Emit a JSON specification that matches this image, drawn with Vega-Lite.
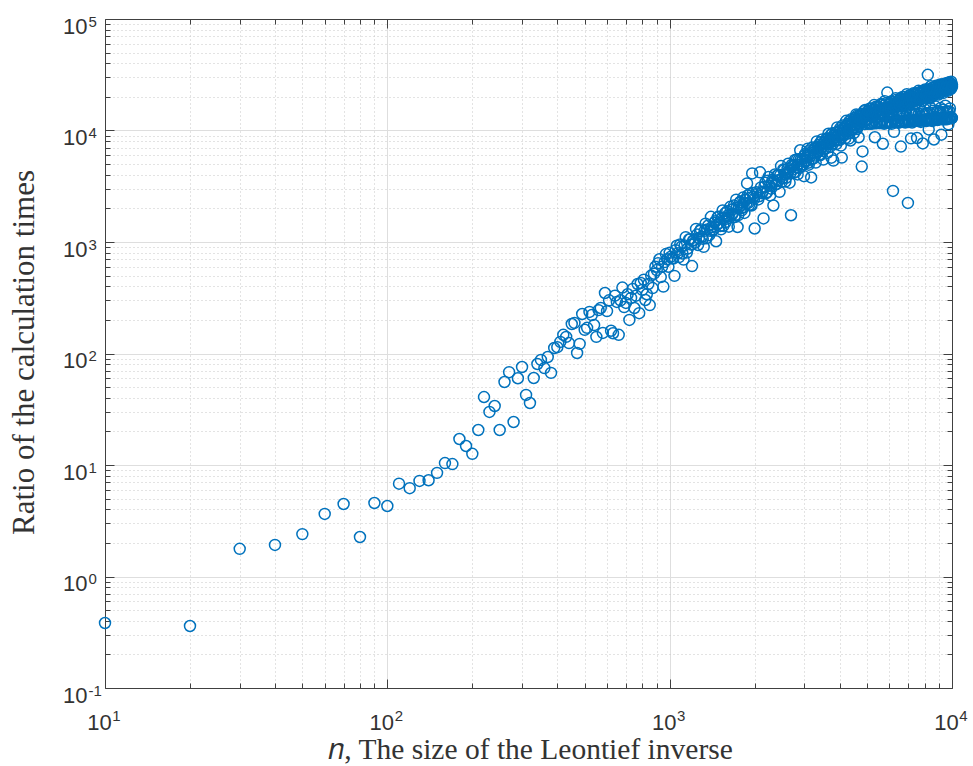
{
"$schema": "https://vega.github.io/schema/vega-lite/v6.json",
"width": 847, "height": 669,
"autosize": {"type": "none"},
"padding": {"left": 105, "top": 19, "right": 21, "bottom": 78},
"background": "white",
"config": {"view": {"stroke": null}, "axis": {"domainColor": "#404040", "domainWidth": 1, "tickColor": "#404040", "tickWidth": 1, "labelFont": "Liberation Sans", "labelFontSize": 22, "labelColor": "#333333", "titleFont": "Liberation Serif", "titleFontSize": 29.5, "titleFontWeight": "normal", "titleColor": "#333333", "labelFlush": false, "labelOverlap": false}},
"data": {"values": [
{"n":10,"ratio":0.383},{"n":20,"ratio":0.36},{"n":30,"ratio":1.77},{"n":40,"ratio":1.92},{"n":50,"ratio":2.4},{"n":60,"ratio":3.64},{"n":70,"ratio":4.47},{"n":80,"ratio":2.26},{"n":90,"ratio":4.56},{"n":100,"ratio":4.29},
{"n":110,"ratio":6.8},{"n":120,"ratio":6.2},{"n":130,"ratio":7.2},{"n":140,"ratio":7.3},{"n":150,"ratio":8.5},{"n":160,"ratio":10.4},{"n":170,"ratio":10.2},{"n":180,"ratio":17.1},{"n":190,"ratio":14.8},{"n":200,"ratio":12.6},
{"n":210,"ratio":20.6},{"n":220,"ratio":40.7},{"n":230,"ratio":29.9},{"n":240,"ratio":33.8},{"n":250,"ratio":20.6},{"n":260,"ratio":55.5},{"n":270,"ratio":68},{"n":280,"ratio":24.3},{"n":290,"ratio":60},{"n":300,"ratio":75.7},
{"n":310,"ratio":42.5},{"n":320,"ratio":36},{"n":330,"ratio":60.3},{"n":340,"ratio":80.5},{"n":350,"ratio":87.5},{"n":360,"ratio":74},{"n":370,"ratio":93},{"n":380,"ratio":67},{"n":390,"ratio":112},{"n":400,"ratio":114},
{"n":410,"ratio":127},{"n":420,"ratio":147},{"n":430,"ratio":141},{"n":440,"ratio":124},{"n":450,"ratio":184},{"n":460,"ratio":188},{"n":470,"ratio":101},{"n":480,"ratio":122},{"n":490,"ratio":226},{"n":500,"ratio":163},
{"n":510,"ratio":170},{"n":520,"ratio":236},{"n":530,"ratio":221},{"n":540,"ratio":180},{"n":550,"ratio":141},{"n":560,"ratio":245},{"n":570,"ratio":256},{"n":580,"ratio":153},{"n":590,"ratio":349},
{"n":600,"ratio":240},{"n":610,"ratio":300},{"n":620,"ratio":160},{"n":630,"ratio":152},{"n":640,"ratio":330},{"n":650,"ratio":290},{"n":660,"ratio":147},{"n":670,"ratio":300},{"n":680,"ratio":390},{"n":690,"ratio":261},
{"n":700,"ratio":284},{"n":710,"ratio":340},{"n":720,"ratio":200},{"n":730,"ratio":315},{"n":740,"ratio":380},{"n":750,"ratio":256},{"n":760,"ratio":330},{"n":770,"ratio":420},{"n":780,"ratio":230},{"n":790,"ratio":429},
{"n":800,"ratio":372},{"n":810,"ratio":460},{"n":820,"ratio":302},{"n":830,"ratio":340},{"n":840,"ratio":420},{"n":850,"ratio":272},{"n":860,"ratio":500},{"n":870,"ratio":386},{"n":880,"ratio":520},{"n":890,"ratio":600},
{"n":900,"ratio":560},{"n":910,"ratio":646},{"n":920,"ratio":700},{"n":930,"ratio":485},{"n":940,"ratio":600},{"n":950,"ratio":398},{"n":960,"ratio":660},{"n":970,"ratio":780},{"n":980,"ratio":700},{"n":990,"ratio":600},{"n":1000,"ratio":800},
{"n":1020,"ratio":713},{"n":1040,"ratio":497},{"n":1060,"ratio":925},{"n":1080,"ratio":733},{"n":1100,"ratio":906},{"n":1120,"ratio":695},{"n":1140,"ratio":1104},{"n":1160,"ratio":874},{"n":1180,"ratio":1059},{"n":1200,"ratio":608},
{"n":1220,"ratio":1043},{"n":1240,"ratio":1310},{"n":1260,"ratio":940},{"n":1280,"ratio":1253},{"n":1300,"ratio":1114},{"n":1320,"ratio":904},{"n":1340,"ratio":1462},{"n":1360,"ratio":1298},{"n":1380,"ratio":1151},{"n":1400,"ratio":1681},
{"n":1420,"ratio":1270},{"n":1440,"ratio":1486},{"n":1460,"ratio":1016},{"n":1480,"ratio":1668},{"n":1500,"ratio":1481},{"n":1520,"ratio":1298},{"n":1540,"ratio":1921},{"n":1560,"ratio":1640},{"n":1580,"ratio":1511},{"n":1600,"ratio":1891},
{"n":1620,"ratio":1371},{"n":1640,"ratio":2067},{"n":1660,"ratio":1746},{"n":1680,"ratio":1973},{"n":1700,"ratio":1672},{"n":1720,"ratio":2395},{"n":1740,"ratio":1363},{"n":1760,"ratio":2047},{"n":1780,"ratio":2299},{"n":1800,"ratio":1922},
{"n":1820,"ratio":2505},{"n":1840,"ratio":1822},{"n":1860,"ratio":2380},{"n":1880,"ratio":3354},{"n":1900,"ratio":2241},{"n":1920,"ratio":2692},{"n":1940,"ratio":2155},{"n":1960,"ratio":4118},{"n":1980,"ratio":2543},{"n":2000,"ratio":1322},
{"n":1010,"ratio":737},{"n":1030,"ratio":710},{"n":1050,"ratio":845},{"n":1070,"ratio":793},{"n":1090,"ratio":950},{"n":1110,"ratio":789},{"n":1130,"ratio":932},{"n":1150,"ratio":804},{"n":1170,"ratio":1052},{"n":1190,"ratio":947},
{"n":1210,"ratio":1028},{"n":1230,"ratio":984},{"n":1250,"ratio":1166},{"n":1270,"ratio":1088},{"n":1290,"ratio":1295},{"n":1310,"ratio":1070},{"n":1330,"ratio":1259},{"n":1350,"ratio":1080},{"n":1370,"ratio":1406},{"n":1390,"ratio":1260},
{"n":1410,"ratio":1362},{"n":1430,"ratio":1299},{"n":1450,"ratio":1533},{"n":1470,"ratio":1426},{"n":1490,"ratio":1689},{"n":1510,"ratio":1391},{"n":1530,"ratio":1629},{"n":1550,"ratio":1393},{"n":1570,"ratio":1809},{"n":1590,"ratio":1614},
{"n":1610,"ratio":1738},{"n":1630,"ratio":1653},{"n":1650,"ratio":1944},{"n":1670,"ratio":1802},{"n":1690,"ratio":2128},{"n":1710,"ratio":1748},{"n":1730,"ratio":2042},{"n":1750,"ratio":1742},{"n":1770,"ratio":2254},{"n":1790,"ratio":2006},
{"n":1810,"ratio":2156},{"n":1830,"ratio":2046},{"n":1850,"ratio":2401},{"n":1870,"ratio":2221},{"n":1890,"ratio":2616},{"n":1910,"ratio":2143},{"n":1930,"ratio":2499},{"n":1950,"ratio":2126},{"n":1970,"ratio":2746},{"n":1990,"ratio":2439},
{"n":2030,"ratio":2797},{"n":2060,"ratio":2408},{"n":2090,"ratio":4214},{"n":2120,"ratio":2739},{"n":2150,"ratio":1627},{"n":2180,"ratio":3398},{"n":2210,"ratio":2800},{"n":2240,"ratio":3827},{"n":2270,"ratio":2614},{"n":2300,"ratio":3413},
{"n":2330,"ratio":2124},{"n":2360,"ratio":4033},{"n":2390,"ratio":3302},{"n":2420,"ratio":3966},{"n":2450,"ratio":2817},{"n":2480,"ratio":4800},{"n":2510,"ratio":3730},{"n":2540,"ratio":4413},{"n":2570,"ratio":3484},{"n":2600,"ratio":4187},
{"n":2630,"ratio":5046},{"n":2660,"ratio":3405},{"n":2690,"ratio":1738},{"n":2720,"ratio":4775},{"n":2750,"ratio":4176},{"n":2780,"ratio":5443},{"n":2810,"ratio":4682},{"n":2840,"ratio":4036},{"n":2870,"ratio":5519},{"n":2900,"ratio":6647},
{"n":2930,"ratio":4793},{"n":2960,"ratio":5573},{"n":2990,"ratio":3893},{"n":3020,"ratio":6168},{"n":3050,"ratio":5328},{"n":3080,"ratio":6851},{"n":3110,"ratio":4939},{"n":3140,"ratio":6091},{"n":3170,"ratio":3791},{"n":3200,"ratio":7041},
{"n":3230,"ratio":5606},{"n":3260,"ratio":6843},{"n":3290,"ratio":5154},{"n":3320,"ratio":7992},{"n":3350,"ratio":6394},{"n":3380,"ratio":7447},{"n":3410,"ratio":5986},{"n":3440,"ratio":6991},{"n":3470,"ratio":8312},{"n":3500,"ratio":5485},
{"n":3530,"ratio":7698},{"n":3560,"ratio":6924},{"n":3590,"ratio":8467},{"n":3620,"ratio":6294},{"n":3650,"ratio":9352},{"n":3680,"ratio":7674},{"n":3710,"ratio":8512},{"n":3740,"ratio":5705},{"n":3770,"ratio":9429},{"n":3800,"ratio":5372},
{"n":3830,"ratio":8089},{"n":3860,"ratio":9502},{"n":3890,"ratio":7535},{"n":3920,"ratio":10663},{"n":3950,"ratio":9011},{"n":3980,"ratio":8223},{"n":4010,"ratio":10005},{"n":4040,"ratio":7326},{"n":4070,"ratio":5713},{"n":4100,"ratio":11098},
{"n":4130,"ratio":8998},{"n":4160,"ratio":10407},{"n":4190,"ratio":8537},{"n":4220,"ratio":12211},{"n":4250,"ratio":9897},{"n":4280,"ratio":11487},{"n":4310,"ratio":8462},{"n":4340,"ratio":10927},{"n":4370,"ratio":8137},{"n":4400,"ratio":12634},
{"n":4430,"ratio":10011},{"n":4460,"ratio":11825},{"n":4490,"ratio":9464},{"n":4520,"ratio":12927},{"n":4550,"ratio":11099},{"n":4580,"ratio":13952},{"n":4610,"ratio":10291},{"n":4640,"ratio":12471},{"n":4670,"ratio":8699},{"n":4700,"ratio":13637},
{"n":4730,"ratio":11539},{"n":4760,"ratio":13450},{"n":4790,"ratio":4749},{"n":4820,"ratio":6492},{"n":4850,"ratio":12738},{"n":4880,"ratio":14876},{"n":4910,"ratio":11417},{"n":4940,"ratio":14125},{"n":4970,"ratio":12360},
{"n":2045,"ratio":2717},{"n":2075,"ratio":2572},{"n":2105,"ratio":3090},{"n":2135,"ratio":2825},{"n":2165,"ratio":3135},{"n":2195,"ratio":2731},{"n":2225,"ratio":3547},{"n":2255,"ratio":3189},{"n":2285,"ratio":3006},{"n":2315,"ratio":3614},
{"n":2345,"ratio":3495},{"n":2375,"ratio":3297},{"n":2405,"ratio":3948},{"n":2435,"ratio":3599},{"n":2465,"ratio":3981},{"n":2495,"ratio":3456},{"n":2525,"ratio":4476},{"n":2555,"ratio":4012},{"n":2585,"ratio":3771},{"n":2615,"ratio":4522},
{"n":2645,"ratio":4362},{"n":2675,"ratio":4104},{"n":2705,"ratio":4903},{"n":2735,"ratio":4457},{"n":2765,"ratio":4918},{"n":2795,"ratio":4260},{"n":2825,"ratio":5503},{"n":2855,"ratio":4922},{"n":2885,"ratio":4616},{"n":2915,"ratio":5522},
{"n":2945,"ratio":5314},{"n":2975,"ratio":4990},{"n":3005,"ratio":5948},{"n":3035,"ratio":5397},{"n":3065,"ratio":5944},{"n":3095,"ratio":5138},{"n":3125,"ratio":6625},{"n":3155,"ratio":5914},{"n":3185,"ratio":5537},{"n":3215,"ratio":6613},
{"n":3245,"ratio":6354},{"n":3275,"ratio":5956},{"n":3305,"ratio":7087},{"n":3335,"ratio":6420},{"n":3365,"ratio":7060},{"n":3395,"ratio":6093},{"n":3425,"ratio":7843},{"n":3455,"ratio":6991},{"n":3485,"ratio":6536},{"n":3515,"ratio":7794},
{"n":3545,"ratio":7478},{"n":3575,"ratio":6998},{"n":3605,"ratio":8316},{"n":3635,"ratio":7522},{"n":3665,"ratio":8261},{"n":3695,"ratio":7120},{"n":3725,"ratio":9154},{"n":3755,"ratio":8150},{"n":3785,"ratio":7609},{"n":3815,"ratio":9064},
{"n":3845,"ratio":8685},{"n":3875,"ratio":8120},{"n":3905,"ratio":9638},{"n":3935,"ratio":8708},{"n":3965,"ratio":9552},{"n":3995,"ratio":8223},{"n":4025,"ratio":10561},{"n":4055,"ratio":9392},{"n":4085,"ratio":8759},{"n":4115,"ratio":10422},
{"n":4145,"ratio":9976},{"n":4175,"ratio":9316},{"n":4205,"ratio":11047},{"n":4235,"ratio":9972},{"n":4265,"ratio":10928},{"n":4295,"ratio":9399},{"n":4325,"ratio":12059},{"n":4355,"ratio":10713},{"n":4385,"ratio":9981},{"n":4415,"ratio":11865},
{"n":4445,"ratio":11345},{"n":4475,"ratio":10586},{"n":4505,"ratio":12542},{"n":4535,"ratio":11311},{"n":4565,"ratio":12384},{"n":4595,"ratio":10642},{"n":4625,"ratio":13641},{"n":4655,"ratio":12108},{"n":4685,"ratio":11272},{"n":4715,"ratio":13389},
{"n":4745,"ratio":12793},{"n":4775,"ratio":11928},{"n":4805,"ratio":14120},{"n":4835,"ratio":12724},{"n":4865,"ratio":13920},{"n":4895,"ratio":11954},{"n":4925,"ratio":15312},{"n":4955,"ratio":13582},{"n":4985,"ratio":12634},
{"n":5000,"ratio":14000},{"n":5030,"ratio":11510},{"n":5060,"ratio":12730},{"n":5090,"ratio":13830},{"n":5120,"ratio":15710},{"n":5150,"ratio":11540},
{"n":5180,"ratio":15140},{"n":5210,"ratio":11560},{"n":5240,"ratio":13540},{"n":5270,"ratio":13310},{"n":5300,"ratio":16900},{"n":5330,"ratio":8700},
{"n":5360,"ratio":14400},{"n":5390,"ratio":11850},{"n":5420,"ratio":16180},{"n":5450,"ratio":15120},{"n":5480,"ratio":13310},{"n":5510,"ratio":11660},
{"n":5540,"ratio":15570},{"n":5570,"ratio":11670},{"n":5600,"ratio":17250},{"n":5630,"ratio":13790},{"n":5660,"ratio":14300},{"n":5690,"ratio":7610},
{"n":5720,"ratio":15680},{"n":5750,"ratio":11480},{"n":5780,"ratio":18340},{"n":5810,"ratio":14670},{"n":5840,"ratio":15150},{"n":5870,"ratio":11990},
{"n":5900,"ratio":21900},{"n":5930,"ratio":11770},{"n":5960,"ratio":17040},{"n":5990,"ratio":13200},{"n":6020,"ratio":14730},{"n":6050,"ratio":11800},
{"n":6080,"ratio":18150},{"n":6110,"ratio":11470},{"n":6140,"ratio":15970},{"n":6170,"ratio":15390},{"n":6180,"ratio":2870},{"n":6200,"ratio":17280},{"n":6230,"ratio":9730},
{"n":6260,"ratio":16910},{"n":6290,"ratio":11880},{"n":6320,"ratio":19430},{"n":6350,"ratio":14040},{"n":6380,"ratio":15460},{"n":6410,"ratio":12280},
{"n":6440,"ratio":18350},{"n":6470,"ratio":11700},{"n":6500,"ratio":16400},{"n":6530,"ratio":14580},{"n":6560,"ratio":19340},{"n":6590,"ratio":7180},
{"n":6620,"ratio":17370},{"n":6650,"ratio":11990},{"n":6680,"ratio":20000},{"n":6710,"ratio":13810},{"n":6740,"ratio":16550},{"n":6770,"ratio":12260},
{"n":6800,"ratio":18850},{"n":6830,"ratio":11800},{"n":6860,"ratio":16440},{"n":6890,"ratio":15680},{"n":6920,"ratio":21160},{"n":6950,"ratio":12080},{"n":6980,"ratio":2240},
{"n":7010,"ratio":18600},{"n":7040,"ratio":12100},{"n":7070,"ratio":17420},{"n":7100,"ratio":14540},{"n":7130,"ratio":20750},{"n":7160,"ratio":8500},
{"n":7190,"ratio":19950},{"n":7220,"ratio":11790},{"n":7250,"ratio":18170},{"n":7280,"ratio":15210},{"n":7310,"ratio":21570},{"n":7340,"ratio":12430},
{"n":7370,"ratio":19010},{"n":7400,"ratio":12210},{"n":7430,"ratio":21090},{"n":7460,"ratio":14060},{"n":7490,"ratio":17690},{"n":7520,"ratio":8570},
{"n":7550,"ratio":20380},{"n":7580,"ratio":12140},{"n":7610,"ratio":22710},{"n":7640,"ratio":15960},{"n":7670,"ratio":18850},{"n":7700,"ratio":12540},
{"n":7730,"ratio":20190},{"n":7760,"ratio":11940},{"n":7790,"ratio":22350},{"n":7820,"ratio":14790},{"n":7850,"ratio":18400},{"n":7880,"ratio":7650},
{"n":7910,"ratio":21820},{"n":7940,"ratio":12360},{"n":7970,"ratio":19680},{"n":8000,"ratio":15480},{"n":8030,"ratio":23350},{"n":8060,"ratio":12650},
{"n":8090,"ratio":20560},{"n":8120,"ratio":12170},{"n":8150,"ratio":22790},{"n":8180,"ratio":14300},{"n":8210,"ratio":31600},{"n":8240,"ratio":19590},{"n":8270,"ratio":10230},
{"n":8300,"ratio":22290},{"n":8330,"ratio":12500},{"n":8360,"ratio":19400},{"n":8390,"ratio":16020},{"n":8420,"ratio":24940},{"n":8450,"ratio":12780},
{"n":8480,"ratio":21820},{"n":8510,"ratio":12170},{"n":8540,"ratio":24140},{"n":8570,"ratio":15080},{"n":8600,"ratio":20530},{"n":8630,"ratio":8300},
{"n":8660,"ratio":23310},{"n":8690,"ratio":12600},{"n":8720,"ratio":21210},{"n":8750,"ratio":16400},{"n":8780,"ratio":25150},{"n":8810,"ratio":12890},
{"n":8840,"ratio":22140},{"n":8870,"ratio":12400},{"n":8900,"ratio":24530},{"n":8930,"ratio":14950},{"n":8960,"ratio":21020},{"n":8990,"ratio":12690},
{"n":9020,"ratio":23890},{"n":9050,"ratio":12580},{"n":9080,"ratio":25870},{"n":9110,"ratio":15900},{"n":9140,"ratio":22070},{"n":9170,"ratio":9170},
{"n":9200,"ratio":23360},{"n":9230,"ratio":13010},{"n":9260,"ratio":25840},{"n":9290,"ratio":15330},{"n":9320,"ratio":21730},{"n":9350,"ratio":12540},
{"n":9380,"ratio":25180},{"n":9410,"ratio":12810},{"n":9440,"ratio":22930},{"n":9470,"ratio":16670},{"n":9500,"ratio":26410},{"n":9530,"ratio":13100},
{"n":9560,"ratio":23650},{"n":9590,"ratio":12600},{"n":9620,"ratio":26200},{"n":9650,"ratio":14810},{"n":9680,"ratio":22680},{"n":9710,"ratio":11350},
{"n":9740,"ratio":25250},{"n":9770,"ratio":12910},{"n":9800,"ratio":27100},{"n":9830,"ratio":15780},{"n":9860,"ratio":23530},{"n":9890,"ratio":13210},
{"n":9920,"ratio":26140},{"n":9950,"ratio":12840},{"n":9980,"ratio":25020},{"n":9990,"ratio":12960},{"n":10000,"ratio":25810},
{"n":5015,"ratio":14035},{"n":5045,"ratio":14951},{"n":5075,"ratio":11522},{"n":5105,"ratio":13534},{"n":5135,"ratio":15748},{"n":5165,"ratio":11548},{"n":5195,"ratio":14167},{"n":5225,"ratio":13300},
{"n":5255,"ratio":14597},{"n":5285,"ratio":15547},{"n":5315,"ratio":11591},{"n":5345,"ratio":14067},{"n":5375,"ratio":16366},{"n":5405,"ratio":11617},{"n":5435,"ratio":14718},{"n":5465,"ratio":13380},
{"n":5495,"ratio":15158},{"n":5525,"ratio":16142},{"n":5555,"ratio":11661},{"n":5585,"ratio":14598},{"n":5615,"ratio":16978},{"n":5645,"ratio":11687},{"n":5675,"ratio":15262},{"n":5705,"ratio":13460},
{"n":5735,"ratio":15711},{"n":5765,"ratio":16727},{"n":5795,"ratio":11731},{"n":5825,"ratio":15122},{"n":5855,"ratio":17586},{"n":5885,"ratio":11757},{"n":5915,"ratio":15803},{"n":5945,"ratio":13540},
{"n":5975,"ratio":16263},{"n":6005,"ratio":17311},{"n":6035,"ratio":11800},{"n":6065,"ratio":15644},{"n":6095,"ratio":18188},{"n":6125,"ratio":11826},{"n":6155,"ratio":16337},{"n":6185,"ratio":13620},
{"n":6215,"ratio":16806},{"n":6245,"ratio":17886},{"n":6275,"ratio":11870},{"n":6305,"ratio":16159},{"n":6335,"ratio":18785},{"n":6365,"ratio":11896},{"n":6395,"ratio":16869},{"n":6425,"ratio":13700},
{"n":6455,"ratio":17348},{"n":6485,"ratio":18461},{"n":6515,"ratio":11939},{"n":6545,"ratio":16674},{"n":6575,"ratio":19382},{"n":6605,"ratio":11965},{"n":6635,"ratio":17400},{"n":6665,"ratio":13780},
{"n":6695,"ratio":17891},{"n":6725,"ratio":19036},{"n":6755,"ratio":12009},{"n":6785,"ratio":17189},{"n":6815,"ratio":19978},{"n":6845,"ratio":12035},{"n":6875,"ratio":17932},{"n":6905,"ratio":13860},
{"n":6935,"ratio":18433},{"n":6965,"ratio":19611},{"n":6995,"ratio":12079},{"n":7025,"ratio":17703},{"n":7055,"ratio":20571},{"n":7085,"ratio":12105},{"n":7115,"ratio":18456},{"n":7145,"ratio":13940},
{"n":7175,"ratio":18965},{"n":7205,"ratio":20173},{"n":7235,"ratio":12148},{"n":7265,"ratio":18205},{"n":7295,"ratio":21152},{"n":7325,"ratio":12174},{"n":7355,"ratio":18974},{"n":7385,"ratio":14020},
{"n":7415,"ratio":19493},{"n":7445,"ratio":20733},{"n":7475,"ratio":12218},{"n":7505,"ratio":18706},{"n":7535,"ratio":21733},{"n":7565,"ratio":12244},{"n":7595,"ratio":19491},{"n":7625,"ratio":14100},
{"n":7655,"ratio":20021},{"n":7685,"ratio":21292},{"n":7715,"ratio":12287},{"n":7745,"ratio":19208},{"n":7775,"ratio":22314},{"n":7805,"ratio":12313},{"n":7835,"ratio":20009},{"n":7865,"ratio":14180},
{"n":7895,"ratio":20549},{"n":7925,"ratio":21852},{"n":7955,"ratio":12357},{"n":7985,"ratio":19710},{"n":8015,"ratio":22893},{"n":8045,"ratio":12383},{"n":8075,"ratio":20523},{"n":8105,"ratio":14260},
{"n":8135,"ratio":21072},{"n":8165,"ratio":22404},{"n":8195,"ratio":12427},{"n":8225,"ratio":20203},{"n":8255,"ratio":23464},{"n":8285,"ratio":12453},{"n":8315,"ratio":21031},{"n":8345,"ratio":14340},
{"n":8375,"ratio":21590},{"n":8405,"ratio":22954},{"n":8435,"ratio":12496},{"n":8465,"ratio":20695},{"n":8495,"ratio":24034},{"n":8525,"ratio":12522},{"n":8555,"ratio":21538},{"n":8585,"ratio":14420},
{"n":8615,"ratio":22106},{"n":8645,"ratio":23500},{"n":8675,"ratio":12566},{"n":8705,"ratio":21184},{"n":8735,"ratio":24599},{"n":8765,"ratio":12592},{"n":8795,"ratio":22041},{"n":8825,"ratio":14500},
{"n":8855,"ratio":22620},{"n":8885,"ratio":24045},{"n":8915,"ratio":12635},{"n":8945,"ratio":21671},{"n":8975,"ratio":25165},{"n":9005,"ratio":12661},{"n":9035,"ratio":22546},{"n":9065,"ratio":14580},
{"n":9095,"ratio":23135},{"n":9125,"ratio":24592},{"n":9155,"ratio":12705},{"n":9185,"ratio":22164},{"n":9215,"ratio":25733},{"n":9245,"ratio":12731},{"n":9275,"ratio":23054},{"n":9305,"ratio":14660},
{"n":9335,"ratio":23654},{"n":9365,"ratio":25141},{"n":9395,"ratio":12775},{"n":9425,"ratio":22656},{"n":9455,"ratio":26304},{"n":9485,"ratio":12801},{"n":9515,"ratio":23561},{"n":9545,"ratio":14740},
{"n":9575,"ratio":24168},{"n":9605,"ratio":25685},{"n":9635,"ratio":12844},{"n":9665,"ratio":23139},{"n":9695,"ratio":26862},{"n":9725,"ratio":12870},{"n":9755,"ratio":24055},{"n":9785,"ratio":14820},
{"n":9815,"ratio":24672},{"n":9845,"ratio":26219},{"n":9875,"ratio":12914},{"n":9905,"ratio":23618},{"n":9935,"ratio":27416},{"n":9965,"ratio":12940},{"n":9995,"ratio":24549}
]},
"layer": [
{"mark": {"type": "point", "shape": "circle", "filled": false, "color": "#0072BD", "strokeWidth": 1.5, "size": 120, "opacity": 1},
 "encoding": {
  "x": {"field": "n", "type": "quantitative", "scale": {"type": "log", "domain": [10, 10000], "nice": false},
   "axis": {"orient": "bottom", "values": [10,20,30,40,50,60,70,80,90,100,200,300,400,500,600,700,800,900,1000,2000,3000,4000,5000,6000,7000,8000,9000,10000],
    "title": "𝑛, The size of the Leontief inverse", "titleX": 425, "titleY": 70, "titleBaseline": "alphabetic", "titleAlign": "center", "titleAngle": 0,
    "labelExpr": "datum.value == 10 || datum.value == 100 || datum.value == 1000 || datum.value == 10000 ? '10' : ''",
    "labelBaseline": "alphabetic", "labelAlign": "center", "labelPadding": 50, "labelOffset": -6,
    "grid": true,
    "gridColor": {"condition": {"test": "datum.value==10||datum.value==100||datum.value==1000||datum.value==10000", "value": "#dedede"}, "value": "#c6c6c6"},
    "gridDash": {"condition": {"test": "datum.value==10||datum.value==100||datum.value==1000||datum.value==10000", "value": []}, "value": [1, 3]},
    "gridOpacity": {"condition": {"test": "datum.value==10||datum.value==10000", "value": 0}, "value": 1},
    "tickSize": {"condition": {"test": "datum.value==10||datum.value==100||datum.value==1000||datum.value==10000", "value": -9}, "value": -5},
    "domain": true}},
  "y": {"field": "ratio", "type": "quantitative", "scale": {"type": "log", "domain": [0.1, 100000], "nice": false},
   "axis": {"orient": "left", "values": [0.1,0.2,0.3,0.4,0.5,0.6,0.7,0.8,0.9,1,2,3,4,5,6,7,8,9,10,20,30,40,50,60,70,80,90,100,200,300,400,500,600,700,800,900,1000,2000,3000,4000,5000,6000,7000,8000,9000,10000,20000,30000,40000,50000,60000,70000,80000,90000,100000],
    "title": "Ratio of the calculation times", "titleFontSize": 31, "titleX": -72, "titleY": 333, "titleAngle": -90, "titleBaseline": "alphabetic", "titleAlign": "center",
    "labelExpr": "datum.value==0.1||datum.value==1||datum.value==10||datum.value==100||datum.value==1000||datum.value==10000||datum.value==100000 ? '10' : ''",
    "labelAlign": "right", "labelBaseline": "alphabetic", "labelPadding": 27, "labelOffset": 14,
    "grid": true,
    "gridColor": {"condition": {"test": "datum.value==0.1||datum.value==1||datum.value==10||datum.value==100||datum.value==1000||datum.value==10000||datum.value==100000", "value": "#dedede"}, "value": "#c6c6c6"},
    "gridDash": {"condition": {"test": "datum.value==0.1||datum.value==1||datum.value==10||datum.value==100||datum.value==1000||datum.value==10000||datum.value==100000", "value": []}, "value": [1, 3]},
    "gridOpacity": {"condition": {"test": "datum.value==0.1||datum.value==100000", "value": 0}, "value": 1},
    "tickSize": {"condition": {"test": "datum.value==0.1||datum.value==1||datum.value==10||datum.value==100||datum.value==1000||datum.value==10000||datum.value==100000", "value": -9}, "value": -5},
    "domain": true}}
 }},
{"transform": [{"filter": "datum.n == 10"}],
 "mark": {"type": "point", "opacity": 0},
 "encoding": {
  "x": {"field": "n", "type": "quantitative",
   "axis": {"orient": "top", "values": [10,20,30,40,50,60,70,80,90,100,200,300,400,500,600,700,800,900,1000,2000,3000,4000,5000,6000,7000,8000,9000,10000],
    "labels": false, "title": null, "grid": false, "domain": true,
    "tickSize": {"condition": {"test": "datum.value==10||datum.value==100||datum.value==1000||datum.value==10000", "value": -9}, "value": -5}}},
  "y": {"field": "ratio", "type": "quantitative",
   "axis": {"orient": "right", "values": [0.1,0.2,0.3,0.4,0.5,0.6,0.7,0.8,0.9,1,2,3,4,5,6,7,8,9,10,20,30,40,50,60,70,80,90,100,200,300,400,500,600,700,800,900,1000,2000,3000,4000,5000,6000,7000,8000,9000,10000,20000,30000,40000,50000,60000,70000,80000,90000,100000],
    "labels": false, "title": null, "grid": false, "domain": true,
    "tickSize": {"condition": {"test": "datum.value==0.1||datum.value==1||datum.value==10||datum.value==100||datum.value==1000||datum.value==10000||datum.value==100000", "value": -9}, "value": -5}}}
 }},
{"transform": [{"filter": "datum.n == 10"}],
 "mark": {"type": "point", "opacity": 0},
 "encoding": {
  "x": {"field": "n", "type": "quantitative",
   "axis": {"orient": "bottom", "values": [10,100,1000,10000],
    "labelExpr": "datum.value == 10 ? '1' : datum.value == 100 ? '2' : datum.value == 1000 ? '3' : '4'",
    "labelFontSize": 15, "labelAlign": "center", "labelBaseline": "alphabetic", "labelPadding": 32, "labelOffset": 11,
    "ticks": false, "tickSize": 0, "title": null, "grid": false, "domain": false}},
  "y": {"field": "ratio", "type": "quantitative",
   "axis": {"orient": "left", "values": [0.1,1,10,100,1000,10000,100000],
    "labelExpr": "datum.value == 0.1 ? '-1' : datum.value == 1 ? '0' : datum.value == 10 ? '1' : datum.value == 100 ? '2' : datum.value == 1000 ? '3' : datum.value == 10000 ? '4' : '5'",
    "labelFontSize": 15, "labelAlign": "left", "labelBaseline": "alphabetic", "labelPadding": 17, "labelOffset": 7,
    "ticks": false, "tickSize": 0, "title": null, "grid": false, "domain": false}}
 }}
],
"resolve": {"axis": {"x": "independent", "y": "independent"}}
}
